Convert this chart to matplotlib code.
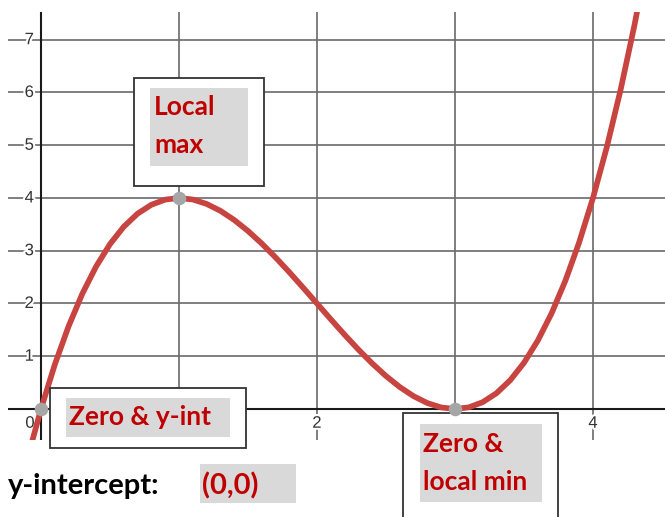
import matplotlib
matplotlib.use("Agg")
import matplotlib.pyplot as plt
import matplotlib.transforms as mtransforms
import matplotlib.patheffects as pe
from matplotlib.patches import Rectangle

W, H = 665, 517

# curve values
curve_x = [-0.1, 0.0, 0.1, 0.2, 0.3, 0.4, 0.5, 0.6, 0.7, 0.8, 0.9, 1.0,
           1.1, 1.2, 1.3, 1.4, 1.5, 1.6, 1.7, 1.8, 1.9, 2.0, 2.1, 2.2,
           2.3, 2.4, 2.5, 2.6, 2.7, 2.8, 2.9, 3.0, 3.1, 3.2, 3.3, 3.4,
           3.5, 3.6, 3.7, 3.8, 3.9, 4.0, 4.1, 4.2, 4.3, 4.4]
curve_y = [-0.961, 0.0, 0.841, 1.568, 2.187, 2.704, 3.125, 3.456, 3.703,
           3.872, 3.969, 4.0, 3.971, 3.888, 3.757, 3.584, 3.375, 3.136,
           2.873, 2.592, 2.299, 2.0, 1.701, 1.408, 1.127, 0.864, 0.625,
           0.416, 0.243, 0.112, 0.029, 0.0, 0.031, 0.128, 0.297, 0.544,
           0.875, 1.296, 1.813, 2.432, 3.159, 4.0, 4.961, 6.048, 7.267,
           8.624]

# highlighted points
pts_x = [0, 1, 3]
pts_y = [0, 4, 0]

x_grid = [1, 2, 3, 4]
y_grid = [1, 2, 3, 4, 5, 6, 7]
x_labels = [0, 2, 4]
y_labels = [1, 2, 3, 4, 5, 6, 7]

red = "#c74440"
txt_red = "#c00000"
hl = "#d9d9d9"

fig = plt.figure(figsize=(W / 100, H / 100), dpi=100)
ax = fig.add_axes([8 / W, (H - 440) / H, (W - 8) / W, (440 - 12) / H])
ax.set_xlim(-0.239, 4.522)
ax.set_ylim(-0.588, 7.526)
ax.axis("off")

for xv in x_grid:
    ax.axvline(xv, color="#6a6a6a", lw=1.2, zorder=1)
for yv in y_grid:
    ax.axhline(yv, color="#6a6a6a", lw=1.2, zorder=1)
ax.axvline(0, color="#1a1a1a", lw=1.5, zorder=1.5)
ax.axhline(0, color="#1a1a1a", lw=1.5, zorder=1.5)

white_edge = [pe.withStroke(linewidth=3, foreground="white")]
for yv in y_labels:
    ax.text(-0.085, yv, str(yv), ha="center", va="center", fontsize=12,
            color="#333333", family="Liberation Sans", zorder=2,
            path_effects=white_edge)
for xv in x_labels:
    ax.text(xv - (0.08 if xv == 0 else 0), -0.27, str(xv), ha="center",
            va="center", fontsize=12, color="#333333",
            family="Liberation Sans", zorder=2, path_effects=white_edge)

ax.plot(curve_x, curve_y, color=red, lw=4.1, solid_joinstyle="round",
        solid_capstyle="butt", zorder=3)

# pixel transform for the callouts (x from left, y from top)
px = mtransforms.Affine2D().scale(1 / W, -1 / H).translate(0, 1) + fig.transFigure


def box(x0, y0, x1, y1, face, edge=None):
    r = Rectangle((x0, y0), x1 - x0, y1 - y0, transform=px, facecolor=face,
                  edgecolor=edge if edge else "none", lw=1.3, clip_on=False,
                  zorder=4)
    ax.add_patch(r)


def label(x, y, s, color=txt_red, size=19):
    ax.text(x, y, s, transform=px, ha="left", va="baseline", fontsize=size,
            fontweight="bold", family="Lato", color=color, clip_on=False,
            zorder=5)


box(134, 78, 264, 186, "white", "#333333")
box(150, 88, 248, 166, hl)
label(154, 115, "Local")
label(154, 153, "max")

box(50, 388, 246, 448, "white", "#333333")
box(66, 398, 230, 437, hl)
label(69, 425, "Zero & y-int")

box(403, 413, 558, 540, "white", "#333333")
box(420, 424, 542, 502, hl)
label(423, 452, "Zero &")
label(423, 490, "local min")

label(8, 494, "y-intercept:", color="black", size=21)
box(200, 464, 296, 503, hl)
label(202, 494, "(0,0)", size=21)

ax.scatter(pts_x, pts_y, s=95, color="#a6a6a6", zorder=6, clip_on=False,
           linewidths=0)

fig.savefig("out.png", dpi=100)
